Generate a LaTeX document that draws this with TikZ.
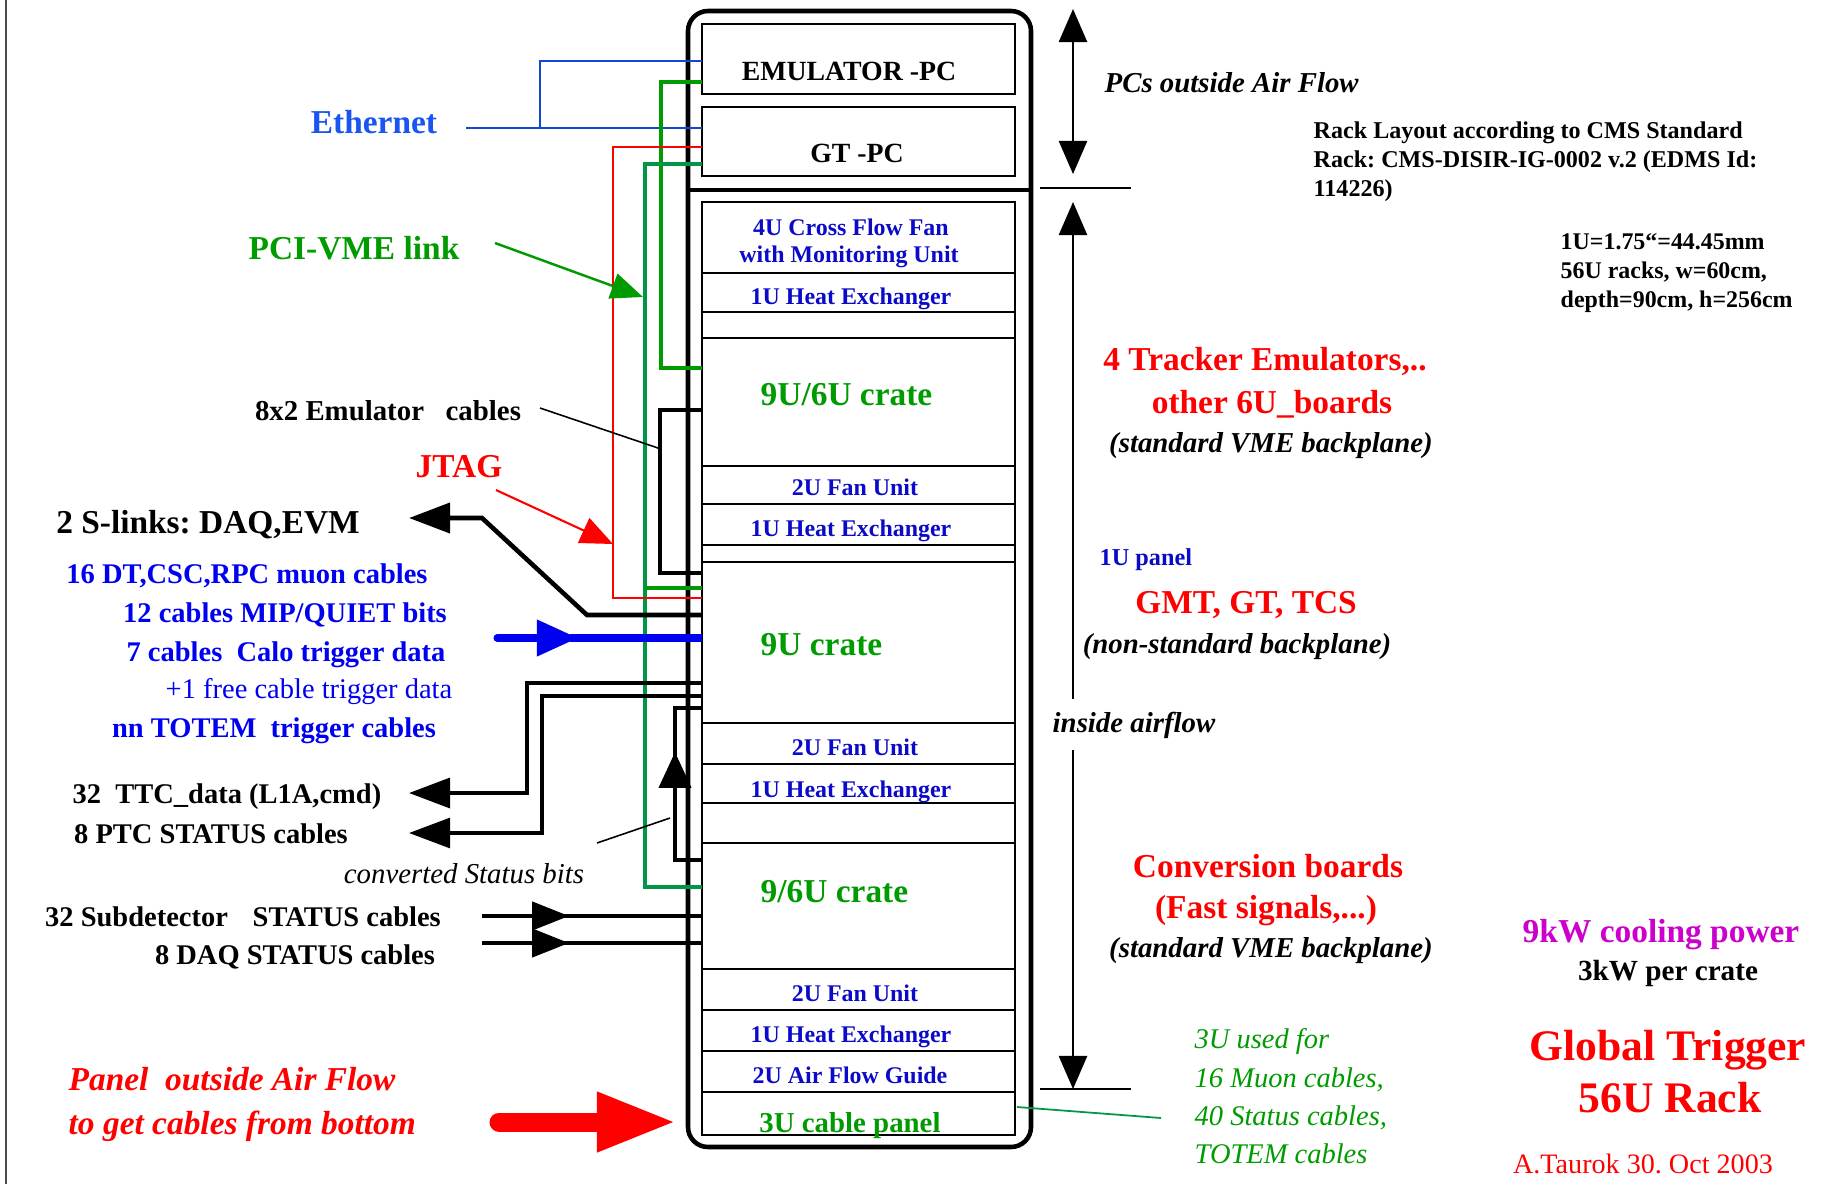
\documentclass[tikz,border=0pt]{standalone}
\usepackage{fontspec}
\setmainfont{Liberation Serif}
\usetikzlibrary{arrows.meta}
\definecolor{ethblue}{RGB}{25,85,240}
\definecolor{ethline}{RGB}{20,70,210}
\definecolor{boxblue}{RGB}{10,10,200}
\definecolor{cabblue}{RGB}{0,0,240}
\definecolor{vmegreen}{RGB}{0,155,0}
\definecolor{gtgreen}{RGB}{0,150,70}
\definecolor{coolmag}{RGB}{204,0,204}
\newcommand{\fsz}[1]{\fontsize{#1}{#1}\selectfont}
\frenchspacing

\begin{document}
\begin{tikzpicture}[x=0.01cm,y=-0.01cm,
  txt/.style={inner sep=0pt,anchor=base},
  boxlbl/.style={txt,text=boxblue,font=\fsz{6.8}\bfseries},
  cratelbl/.style={txt,anchor=base west,text=vmegreen,font=\fsz{9.5}\bfseries},
  bigred/.style={txt,text=red,font=\fsz{9.5}\bfseries},
  note/.style={txt,font=\fsz{8.2}\bfseries\itshape},
  cabtxt/.style={txt,text=cabblue,font=\fsz{8.1}\bfseries},
  blktxt/.style={txt,font=\fsz{8.1}\bfseries},
  cable/.style={line width=1.15pt},
  leader/.style={line width=0.45pt},
  airtip/.style={line width=0.6pt,arrows={Triangle[length=9.4pt,width=8pt]-Triangle[length=9.4pt,width=8pt]}},
  outtip/.style={-{Triangle[length=11.7pt,width=8.5pt]}},
  intip/.style={-{Triangle[length=10.5pt,width=8pt]}}]
\useasboundingbox (0,0) rectangle (1839,1184);
\draw[line width=0.6pt,black!70] (6,0) -- (6,1184);

% the rack
\draw[line width=1.3pt,rounded corners=0.2cm] (688,11) rectangle (1031,1147);
\draw[line width=1.2pt] (688,190) -- (1031,190);
\draw[line width=0.75pt] (702,24) rectangle (1015,94) (702,107) rectangle (1015,176);
\draw[line width=0.6pt] (702,202) rectangle (1015,1135);
\foreach \y in {273,312,338,466,504,545,562,723,764,803,843,969,1010,1051,1092}
  \draw[line width=0.6pt] (702,\y) -- (1015,\y);

\node[txt,font=\fsz{7.9}\bfseries] (emupc) at (849,80) {EMULATOR -PC};
\node[txt,font=\fsz{7.9}\bfseries] (gtpc) at (857,162) {GT -PC};
\node[boxlbl] (cff1) at (851,235) {4U Cross Flow Fan};
\node[boxlbl] (cff2) at (849,262) {with Monitoring Unit};
\node[boxlbl] (hx1) at (851,304) {1U Heat Exchanger};
\node[cratelbl] (crA) at (760,405) {9U/6U crate};
\node[boxlbl] (fan1) at (855,495) {2U Fan Unit};
\node[boxlbl] (hx2) at (851,536) {1U Heat Exchanger};
\node[cratelbl] (crB) at (760,655) {9U crate};
\node[boxlbl] (fan2) at (855,755) {2U Fan Unit};
\node[boxlbl] (hx3) at (851,797) {1U Heat Exchanger};
\node[cratelbl] (crC) at (760,902) {9/6U crate};
\node[boxlbl] (fan3) at (855,1001) {2U Fan Unit};
\node[boxlbl] (hx4) at (851,1042) {1U Heat Exchanger};
\node[boxlbl] (afg) at (850,1083) {2U Air Flow Guide};
\node[txt,text=vmegreen,font=\fsz{8.2}\bfseries] (cpanel) at (850,1132) {3U cable panel};

% air flow marks on the right
\draw[airtip] (1073,9) -- (1073,174);
\draw[line width=0.7pt] (1040,188) -- (1131,188);
\draw[airtip] (1073,202) -- (1073,1089);
\draw[line width=0.7pt] (1040,1089) -- (1131,1089);
\node[note,anchor=base west,fill=white,inner ysep=3.5pt] (inair) at (1052,732) {inside airflow};
\node[note,anchor=base west] (pcsout) at (1104,92) {PCs outside Air Flow};

\node[txt,anchor=base west,font=\fsz{6.85}\bfseries] (std1) at (1313,138) {Rack Layout according to CMS Standard};
\node[txt,anchor=base west,font=\fsz{6.85}\bfseries] (std2) at (1313,167) {Rack: CMS-DISIR-IG-0002 v.2 (EDMS Id:};
\node[txt,anchor=base west,font=\fsz{6.85}\bfseries] (std3) at (1313,196) {114226)};
\node[txt,anchor=base west,font=\fsz{6.8}\bfseries] (dim1) at (1560,249) {1U=1.75“=44.45mm};
\node[txt,anchor=base west,font=\fsz{6.8}\bfseries] (dim2) at (1560,278) {56U racks, w=60cm,};
\node[txt,anchor=base west,font=\fsz{6.8}\bfseries] (dim3) at (1560,307) {depth=90cm, h=256cm};

\node[bigred] (trk1) at (1265,370) {4 Tracker Emulators,..};
\node[bigred] (trk2) at (1272,413) {other 6U\_boards};
\node[note] (vme1) at (1271,452) {(standard VME backplane)};
\node[txt,anchor=base west,text=boxblue,font=\fsz{6.9}\bfseries] (panel1u) at (1099,565) {1U panel};
\node[bigred] (gmt) at (1246,613) {GMT, GT, TCS};
\node[note] (nonstd) at (1237,653) {(non-standard backplane)};
\node[bigred] (conv1) at (1268,877) {Conversion boards};
\node[bigred] (conv2) at (1266,918) {(Fast signals,...)};
\node[note] (vme2) at (1271,957) {(standard VME backplane)};

\node[txt,text=coolmag,font=\fsz{9.5}\bfseries] (cool) at (1661,942) {9kW cooling power};
\node[txt,font=\fsz{8.3}\bfseries] (percrate) at (1668,980) {3kW per crate};
\node[txt,text=red,font=\fsz{12.4}\bfseries] (gt1) at (1668,1060) {Global Trigger};
\node[txt,text=red,font=\fsz{12.4}\bfseries] (gt2) at (1670,1112) {56U Rack};
\node[txt,text=red,font=\fsz{8}] (auth) at (1643,1173) {A.Taurok 30. Oct 2003};

\node[txt,anchor=base west,text=vmegreen,font=\fsz{8.1}\itshape] (use1) at (1194,1048) {3U used for};
\node[txt,anchor=base west,text=vmegreen,font=\fsz{8.1}\itshape] (use2) at (1194,1087) {16 Muon cables,};
\node[txt,anchor=base west,text=vmegreen,font=\fsz{8.1}\itshape] (use3) at (1194,1125) {40 Status cables,};
\node[txt,anchor=base west,text=vmegreen,font=\fsz{8.1}\itshape] (use4) at (1194,1163) {TOTEM cables};
\draw[gtgreen,line width=0.5pt] (1017,1107) -- (1161,1118);

% cables on the left
\draw[ethline,line width=0.6pt] (466,128) -- (702,128);
\draw[ethline,line width=0.6pt] (540,128) -- (540,61) -- (702,61);
\draw[vmegreen,line width=1.15pt] (702,82) -- (661,82) -- (661,368) -- (702,368);
\draw[gtgreen,line width=1pt] (702,164) -- (645,164) -- (645,887) -- (702,887);
\draw[vmegreen,line width=1pt] (645,588) -- (702,588);
\draw[red,line width=0.5pt] (702,147) -- (613,147) -- (613,598) -- (702,598);
\draw[vmegreen,line width=0.7pt,-{Triangle[length=9.1pt,width=7.4pt]}] (495,243) -- (643,297);
\draw[red,line width=0.6pt,-{Triangle[length=9.2pt,width=7.7pt]}] (496,490) -- (613,544);
\draw[cable] (702,410) -- (660,410) -- (660,573) -- (702,573);
\draw[leader] (540,408) -- (658,448);
\draw[line width=1.3pt,outtip] (702,615) -- (587,615) -- (482,518) -- (409,518);
\draw[cabblue,line width=2pt,line cap=round,-{Triangle[length=11.7pt,width=10pt]}] (497,638) -- (578,638);
\draw[cabblue,line width=2pt] (570,638) -- (702,638);
\draw[cable,outtip] (702,683) -- (527,683) -- (527,793) -- (409,793);
\draw[line width=1pt,outtip] (702,696) -- (542,696) -- (542,833) -- (409,833);
\draw[line width=1.4pt] (702,708) -- (675,708) -- (675,860) -- (702,860);
\draw[line width=1.4pt,-{Triangle[length=10.2pt,width=9pt]}] (675,800) -- (675,752);
\draw[leader] (597,843) -- (670,818);
\draw[cable,intip] (482,916) -- (569,916);
\draw[cable] (560,916) -- (702,916);
\draw[cable,intip] (482,943) -- (569,943);
\draw[cable] (560,943) -- (702,943);
\draw[red,line width=5.4pt,line cap=round,-{Triangle[length=22.8pt,width=15.6pt]}] (499,1122) -- (677,1122);

\node[txt,text=ethblue,font=\fsz{9.5}\bfseries] (eth) at (374,133) {Ethernet};
\node[txt,text=vmegreen,font=\fsz{9.5}\bfseries] (pcivme) at (354,259) {PCI-VME link};
\node[txt,font=\fsz{8.2}\bfseries] (emucab) at (388,420) {8x2 Emulator\ \ \ cables};
\node[bigred] (jtag) at (459,477) {JTAG};
\node[txt,font=\fsz{9.5}\bfseries] (slink) at (208,533) {2 S-links: DAQ,EVM};
\node[cabtxt] (muon) at (247,583) {16 DT,CSC,RPC muon cables};
\node[cabtxt] (mip) at (285,622) {12 cables MIP/QUIET bits};
\node[cabtxt] (calo) at (286,661) {7 cables\ \ Calo trigger data};
\node[txt,text=cabblue,font=\fsz{8.1}] (free) at (309,698) {+1 free cable trigger data};
\node[cabtxt] (totem) at (274,737) {nn TOTEM\ \ trigger cables};
\node[blktxt] (ttc) at (227,803) {32\ \ TTC\_data (L1A,cmd)};
\node[blktxt] (ptc) at (211,843) {8 PTC STATUS cables};
\node[txt,font=\fsz{8.2}\itshape] (convst) at (464,883) {converted Status bits};
\node[blktxt] (subdet) at (243,926) {32 Subdetector\hspace{0.87em}STATUS cables};
\node[blktxt] (daqst) at (295,964) {8 DAQ STATUS cables};
\node[txt,anchor=base west,text=red,font=\fsz{9.5}\bfseries\itshape] (pnl1) at (68,1090) {Panel\ \ outside Air Flow};
\node[txt,anchor=base west,text=red,font=\fsz{9.5}\bfseries\itshape] (pnl2) at (68,1134) {to get cables from bottom};
\end{tikzpicture}
\end{document}
